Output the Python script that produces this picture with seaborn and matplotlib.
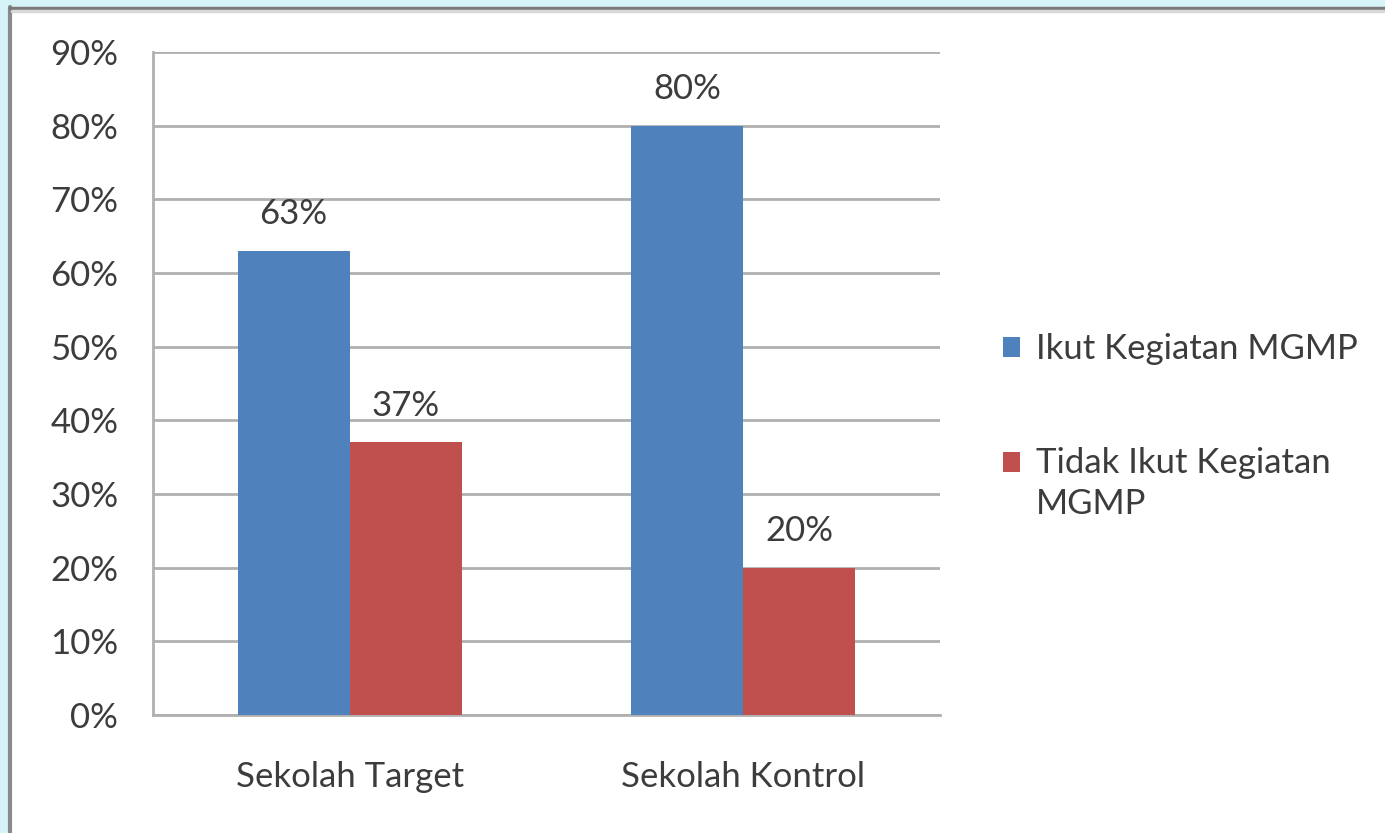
import pandas as pd
import numpy as np
import matplotlib.pyplot as plt
import seaborn as sns
from matplotlib.patches import Rectangle

# data
categories = ["Sekolah Target", "Sekolah Kontrol"]
series = ["Ikut Kegiatan MGMP", "Tidak Ikut Kegiatan\nMGMP"]
ikut = [63, 80]
tidak_ikut = [37, 20]
y_ticks = [0, 10, 20, 30, 40, 50, 60, 70, 80, 90]

df = pd.DataFrame({
    "Sekolah": categories * 2,
    "Kelompok": [series[0]] * 2 + [series[1]] * 2,
    "Persen": ikut + tidak_ikut,
})

sns.set_style("white")
plt.rcParams["font.family"] = ["Lato", "DejaVu Sans"]

text_col = "#3c3c3c"
grid_col = "#b0b0b0"
fs = 25

fig = plt.figure(figsize=(13.85, 8.33), dpi=100)
fig.patch.set_facecolor("#d6f3f8")

# white panel with gray frame on the left and top edges
panel = Rectangle((8 / 1385, 0), 1, 1 - 9 / 833, transform=fig.transFigure,
                  facecolor="white", edgecolor="none", zorder=-5)
fig.add_artist(panel)
fig.add_artist(plt.Line2D([10 / 1385, 10 / 1385], [0, 1 - 7 / 833], transform=fig.transFigure,
                          color="#8a8a8a", lw=3, zorder=-4))
fig.add_artist(plt.Line2D([10 / 1385, 1], [1 - 7.5 / 833, 1 - 7.5 / 833], transform=fig.transFigure,
                          color="#7a7a7a", lw=2.5, zorder=-4))
fig.add_artist(plt.Line2D([12 / 1385, 1], [1 - 10.5 / 833, 1 - 10.5 / 833], transform=fig.transFigure,
                          color="#d8d8d8", lw=2.5, zorder=-4))

ax = fig.add_axes([153 / 1385, 1 - 715 / 833, (940 - 153) / 1385, (715 - 52) / 833])
ax.set_facecolor("none")

sns.barplot(data=df, x="Sekolah", y="Persen", hue="Kelompok", order=categories,
            hue_order=series, palette=["#4F81BD", "#C0504D"], width=0.57,
            saturation=1, linewidth=0, ax=ax, zorder=3)

ax.set_xlim(-0.5, 1.5)
ax.set_ylim(0, 90)
ax.set_yticks(y_ticks)
ax.set_yticklabels([f"{v}%" for v in y_ticks])
ax.yaxis.grid(True, color=grid_col, lw=2)
ax.set_axisbelow(True)

for s in ["top", "right"]:
    ax.spines[s].set_visible(False)
for s in ["left", "bottom"]:
    ax.spines[s].set_color(grid_col)
    ax.spines[s].set_linewidth(2)

ax.set_xticks([0, 1])
ax.set_xticklabels(categories)
ax.set_xticks([-0.5, 0.5, 1.5], minor=True)
ax.tick_params(axis="x", which="major", length=0, pad=33, labelsize=fs, labelcolor=text_col)
ax.tick_params(axis="x", which="minor", length=8, width=2, color=grid_col, direction="out")
ax.tick_params(axis="y", length=7, width=2, color=grid_col, pad=18, labelsize=fs,
               labelcolor=text_col)
ax.set_xlabel("")
ax.set_ylabel("")

for cont in ax.containers:
    ax.bar_label(cont, labels=[f"{v:.0f}%" for v in cont.datavalues], padding=15,
                 fontsize=fs, color=text_col)

leg = ax.legend(loc="center left", bbox_to_anchor=(1.040, 0.435), frameon=False, fontsize=fs,
                labelcolor=text_col, handlelength=0.5, handleheight=0.5, handletextpad=0.45,
                labelspacing=2.35)
for t in leg.get_texts():
    t.set_linespacing(1.35)
# put the square of the two-line entry next to its first line
leg.legend_handles[1].set_y(leg.legend_handles[1].get_y() + 16)

fig.savefig("out.png", dpi=100)
